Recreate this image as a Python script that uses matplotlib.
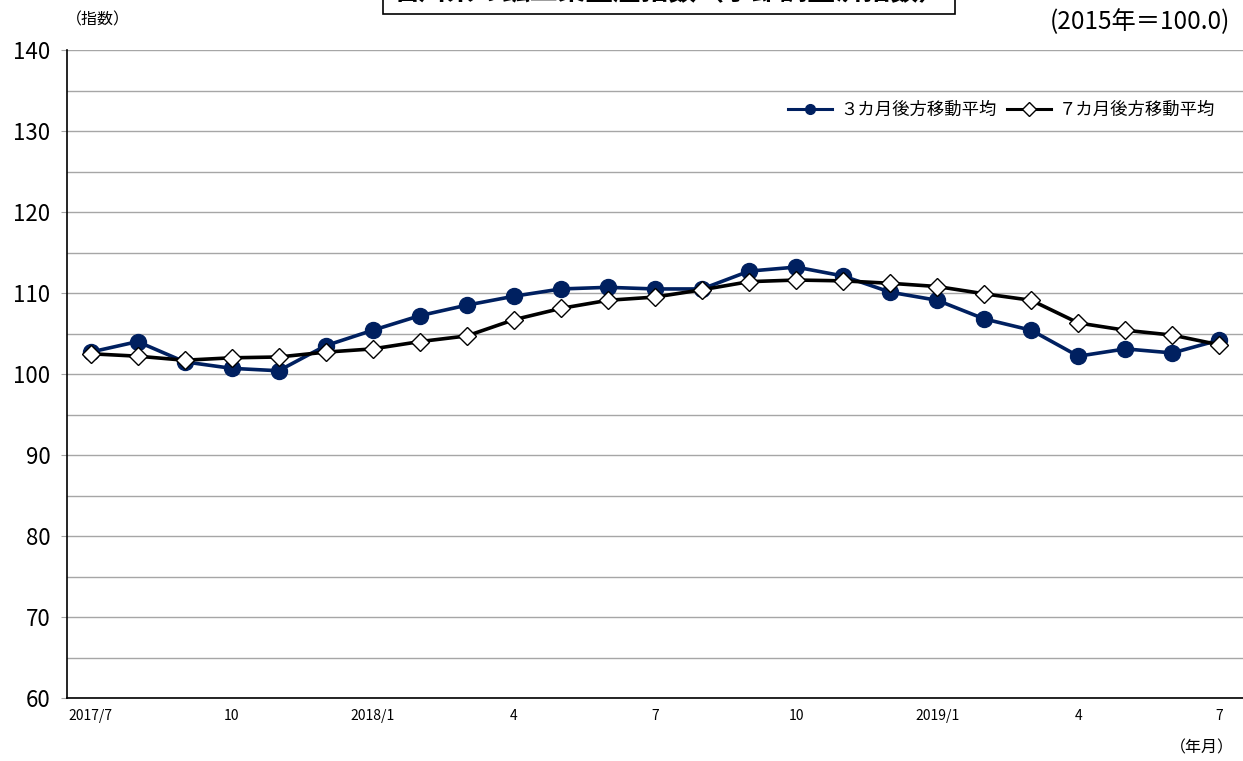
import matplotlib
matplotlib.use('Agg')
import matplotlib.pyplot as plt
import numpy as np

plt.rcParams['font.family'] = ['Noto Sans CJK JP', 'DejaVu Sans']

# Data (2017/7 - 2019/7, monthly)
months = ['2017/7', '8', '9', '10', '11', '12',
          '2018/1', '2', '3', '4', '5', '6', '7', '8', '9', '10', '11', '12',
          '2019/1', '2', '3', '4', '5', '6', '7']
avg3 = [102.7, 104.0, 101.5, 100.7, 100.4, 103.5, 105.4, 107.2, 108.5, 109.6,
        110.5, 110.7, 110.5, 110.5, 112.7, 113.2, 112.1, 110.1, 109.1, 106.8,
        105.4, 102.2, 103.1, 102.6, 104.2]
avg7 = [102.5, 102.2, 101.7, 102.0, 102.1, 102.7, 103.1, 104.0, 104.7, 106.7,
        108.1, 109.1, 109.5, 110.4, 111.4, 111.6, 111.5, 111.2, 110.8, 109.9,
        109.1, 106.3, 105.4, 104.8, 103.6]
tick_pos = [0, 3, 6, 9, 12, 15, 18, 21, 24]
tick_labels = ['2017/7', '10', '2018/1', '4', '7', '10', '2019/1', '4', '7']
series_names = ['３カ月後方移動平均', '７カ月後方移動平均']

W, H = 1243, 761
fig = plt.figure(figsize=(W / 100, H / 100), dpi=100)
ax = fig.add_axes([67 / W, 1 - 698 / H, 1 - 67 / W, (698 - 50) / H])

x = np.arange(len(months))
ax.plot(x, avg3, color='#002060', lw=2.6, marker='o', markersize=11.5,
        markerfacecolor='#002060', markeredgecolor='#002060',
        label=series_names[0], zorder=3)
ax.plot(x, avg7, color='black', lw=2.6, marker='D', markersize=9,
        markerfacecolor='white', markeredgecolor='black', markeredgewidth=1.0,
        label=series_names[1], zorder=4)

ax.set_xlim(-0.5, len(months) - 0.5)
ax.set_ylim(60, 140)
ax.set_yticks(np.arange(60, 141, 10))
ax.set_yticks(np.arange(65, 140, 10), minor=True)
ax.grid(axis='y', which='both', color='#a6a6a6', lw=1.0)
ax.set_axisbelow(True)
ax.tick_params(axis='y', which='major', labelsize=16, length=4, color='#a6a6a6', pad=8)
ax.tick_params(axis='y', which='minor', length=0)
ax.set_xticks(tick_pos)
ax.set_xticklabels(tick_labels, fontsize=10)
ax.tick_params(axis='x', length=0, pad=8)

for s in ['top', 'right']:
    ax.spines[s].set_visible(False)
ax.spines['left'].set_linewidth(1.2)
ax.spines['bottom'].set_linewidth(1.2)

leg = ax.legend(loc='upper right', bbox_to_anchor=(0.99, 0.945), ncol=2,
                frameon=False, fontsize=12.5, handlelength=2.5,
                columnspacing=0.6, handletextpad=0.5)
for h in leg.legend_handles:
    h.set_markersize(7)
    h.set_linewidth(2.2)

fig.text(98 / W, 1 - 20 / H, '（指数）', fontsize=11.5, ha='center', va='center')
fig.text(1230 / W, 1 - 22 / H, '(2015年＝100.0)', fontsize=17.5, ha='right', va='center')
fig.text(1234 / W, 1 - 748 / H, '（年月）', fontsize=11.5, ha='right', va='center')
fig.text(669 / W, 1 + 8 / H, '石川県の鉱工業生産指数（季節調整済指数）', fontsize=20,
         fontweight='bold', ha='center', va='center',
         bbox=dict(boxstyle='square,pad=0.3', facecolor='white', edgecolor='black', lw=1.2))

fig.savefig('out.png', dpi=100)
